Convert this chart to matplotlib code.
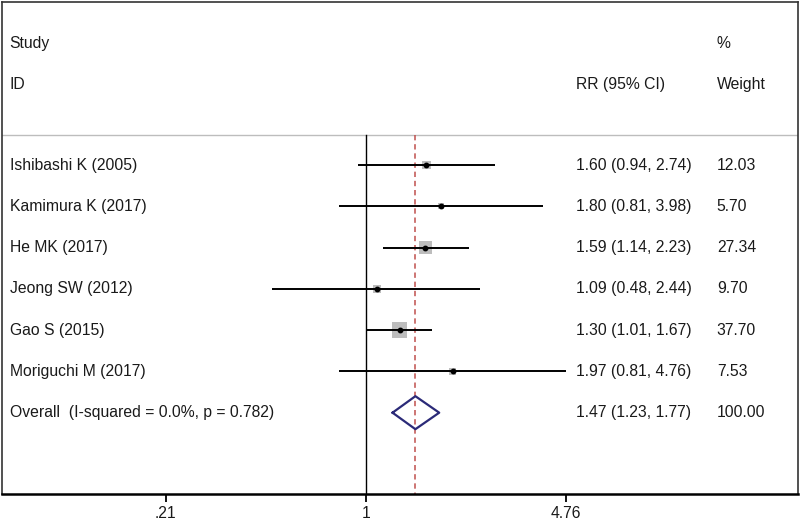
import numpy as np
import matplotlib.pyplot as plt

# study data
studies = ["Ishibashi K (2005)", "Kamimura K (2017)", "He MK (2017)",
           "Jeong SW (2012)", "Gao S (2015)", "Moriguchi M (2017)"]
rr = [1.60, 1.80, 1.59, 1.09, 1.30, 1.97]
ci_low = [0.94, 0.81, 1.14, 0.48, 1.01, 0.81]
ci_high = [2.74, 3.98, 2.23, 2.44, 1.67, 4.76]
weights = [12.03, 5.70, 27.34, 9.70, 37.70, 7.53]

overall_label = "Overall  (I-squared = 0.0%, p = 0.782)"
overall_rr = 1.47
overall_low = 1.23
overall_high = 1.77

tick_vals = [0.21, 1, 4.76]
tick_labels = [".21", "1", "4.76"]

plt.rcParams['font.family'] = ['Liberation Sans', 'DejaVu Sans']
fs = 11.3
txt_col = '#1a1a1a'

fig = plt.figure(figsize=(8, 5.23), dpi=100)
ax = fig.add_axes([2 / 800, (523 - 494) / 523, 796 / 800, 492 / 523])
ax.set_xscale('log')
# 1 sits at 366px, 128.2px per log unit
ax.set_xlim(np.exp((2 - 366) / 128.2), np.exp((798 - 366) / 128.2))
y_top, y_bot = -2.95, 8.97
ax.set_ylim(y_bot, y_top)

rows = np.arange(1, len(studies) + 1)
overall_row = len(studies) + 1
sep_y = 0.27

# header separator
ax.axhline(sep_y, color='#bdbdbd', lw=1.0)

# null line and overall effect line
ax.plot([1, 1], [sep_y, y_bot], color='black', lw=1.0, zorder=2)
ax.plot([overall_rr, overall_rr], [sep_y, y_bot], color='#c0504d', lw=1.1,
        dashes=(3.5, 2.5), zorder=2)

# weight boxes
ax.scatter(rr, rows, s=np.array(weights) * 3.4, marker='s', color='#bdbdbd',
           edgecolors='none', zorder=3)
# CIs
ax.hlines(rows, ci_low, ci_high, color='black', lw=1.4, zorder=4)
ax.plot(rr, rows, 'o', color='black', markersize=3.2, zorder=5)

# overall diamond
h = 0.4
ax.plot([overall_low, overall_rr, overall_high, overall_rr, overall_low],
        [overall_row, overall_row - h, overall_row, overall_row + h, overall_row],
        color='#2b2a78', lw=1.6, zorder=5)

# text columns
tr = ax.get_yaxis_transform()
x_lab, x_rr, x_w = 0.0095, 0.7205, 0.898
ax.text(x_lab, -1.95, "Study", transform=tr, va='center', fontsize=fs, color=txt_col)
ax.text(x_lab, -0.94, "ID", transform=tr, va='center', fontsize=fs, color=txt_col)
ax.text(x_rr, -0.94, "RR (95% CI)", transform=tr, va='center', fontsize=fs, color=txt_col)
ax.text(x_w, -1.95, "%", transform=tr, va='center', fontsize=fs, color=txt_col)
ax.text(x_w, -0.94, "Weight", transform=tr, va='center', fontsize=fs, color=txt_col)

for r, name, e, lo, hi, w in zip(rows, studies, rr, ci_low, ci_high, weights):
    ax.text(x_lab, r, name, transform=tr, va='center', fontsize=fs, color=txt_col)
    ax.text(x_rr, r, f"{e:.2f} ({lo:.2f}, {hi:.2f})", transform=tr,
            va='center', fontsize=fs, color=txt_col)
    ax.text(x_w, r, f"{w:.2f}", transform=tr, va='center', fontsize=fs, color=txt_col)

ax.text(x_lab, overall_row, overall_label, transform=tr, va='center',
        fontsize=fs, color=txt_col)
ax.text(x_rr, overall_row,
        f"{overall_rr:.2f} ({overall_low:.2f}, {overall_high:.2f})",
        transform=tr, va='center', fontsize=fs, color=txt_col)
ax.text(x_w, overall_row, f"{sum(weights):.2f}", transform=tr, va='center',
        fontsize=fs, color=txt_col)

# axis ticks
ax.set_xticks(tick_vals)
ax.set_xticklabels(tick_labels, fontsize=fs, color=txt_col)
ax.xaxis.set_minor_locator(plt.NullLocator())
ax.tick_params(axis='x', length=6, width=1.3, pad=3, direction='out')
ax.set_yticks([])
for side in ['left', 'right', 'top']:
    ax.spines[side].set_linewidth(1.2)
    ax.spines[side].set_color('#333333')
ax.spines['bottom'].set_linewidth(1.8)

fig.savefig('out.png', dpi=100)
